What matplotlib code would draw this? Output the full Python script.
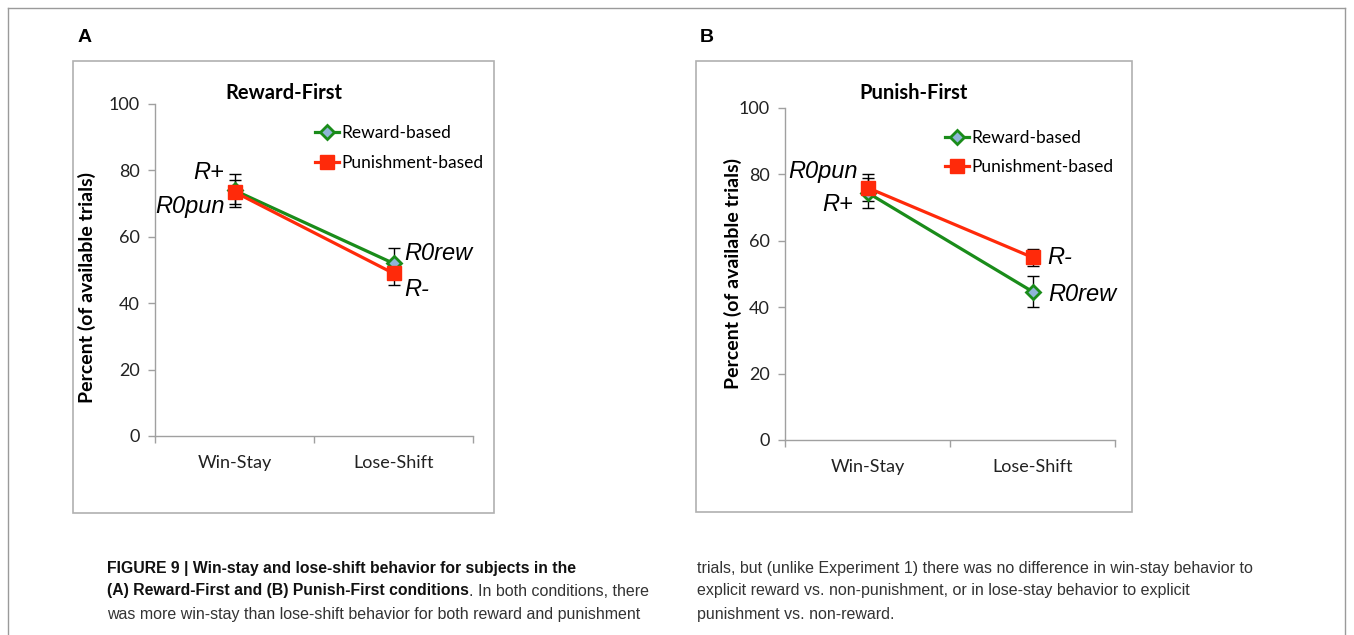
import matplotlib.pyplot as plt
from matplotlib.patches import Rectangle
from matplotlib.lines import Line2D

plt.rcParams['font.family'] = ['Lato', 'DejaVu Sans']

# data
categories = ['Win-Stay', 'Lose-Shift']
series_names = ['Reward-based', 'Punishment-based']

rf_reward = [74, 52]
rf_reward_err = [5, 4.5]
rf_punish = [73.5, 49]
rf_punish_err = [3.5, 3.5]

pf_reward = [74.5, 44.7]
pf_reward_err = [4.5, 4.7]
pf_punish = [76, 55]
pf_punish_err = [4, 2.5]

yticks = [0, 20, 40, 60, 80, 100]

GREEN = '#1a8c1a'
RED = '#ff2a0a'
GRAY = '#a0a0a0'

W, H = 1354, 635
fig = plt.figure(figsize=(W / 100, H / 100), dpi=100)


def px_rect(x0, y0, x1, y1):
    return [x0 / W, 1 - y1 / H, (x1 - x0) / W, (y1 - y0) / H]


# outer frame
fig.add_artist(Line2D([8 / W, 8 / W], [0, 1 - 8 / H], color='#9a9a9a', lw=1))
fig.add_artist(Line2D([1345 / W, 1345 / W], [0, 1 - 8 / H], color='#9a9a9a', lw=1))
fig.add_artist(Line2D([8 / W, 1345 / W], [1 - 8 / H, 1 - 8 / H], color='#9a9a9a', lw=1))

# chart boxes
for box in [(73, 61, 494, 513), (696, 61, 1132, 512)]:
    x0, y0, x1, y1 = box
    fig.add_artist(Rectangle((x0 / W, 1 - y1 / H), (x1 - x0) / W, (y1 - y0) / H,
                             transform=fig.transFigure, fill=False,
                             edgecolor='#b0b0b0', lw=1.2))


def draw_panel(rect, title, title_xy, reward, reward_err, punish, punish_err,
               labels, letter, letter_xy, ylab_xy, leg_xy):
    ax = fig.add_axes(rect)
    xs = [0.5, 1.5]
    ax.errorbar(xs, reward, yerr=reward_err, fmt='none', ecolor='black',
                elinewidth=1, capsize=4, capthick=1, zorder=2)
    ax.errorbar(xs, punish, yerr=punish_err, fmt='none', ecolor='black',
                elinewidth=1, capsize=4, capthick=1, zorder=2)
    ax.plot(xs, reward, color=GREEN, lw=2.3, marker='D', ms=7,
            markerfacecolor='#8fb4d8', markeredgecolor=GREEN, markeredgewidth=2,
            label=series_names[0], zorder=3)
    ax.plot(xs, punish, color=RED, lw=2.3, marker='s', ms=10,
            markerfacecolor=RED, markeredgecolor=RED,
            label=series_names[1], zorder=4)

    ax.set_xlim(0, 2)
    ax.set_ylim(0, 100)
    ax.set_yticks(yticks)
    ax.set_xticks([0, 1, 2])
    ax.set_xticklabels([])
    ax.set_xticks(xs, minor=True)
    ax.set_xticklabels(categories, minor=True)
    ax.tick_params(axis='x', which='minor', length=0, pad=14, labelsize=13, labelcolor='#222')
    ax.tick_params(axis='x', which='major', length=5, color=GRAY, width=1)
    ax.tick_params(axis='y', length=5, color=GRAY, width=1, labelsize=13, labelcolor='#222', pad=6)
    for s in ['top', 'right']:
        ax.spines[s].set_visible(False)
    for s in ['left', 'bottom']:
        ax.spines[s].set_color(GRAY)
        ax.spines[s].set_linewidth(1)
    ax.set_ylabel('Percent (of available trials)', fontsize=14, fontweight='bold')
    ax.yaxis.set_label_coords(*ylab_xy)
    ax.text(title_xy[0], title_xy[1], title, transform=ax.transAxes, fontsize=14.5,
            fontweight='bold', ha='center', va='center')

    ax.legend(loc='upper left', bbox_to_anchor=leg_xy, frameon=False, fontsize=12.5,
              borderaxespad=0, borderpad=0,
              handlelength=1.4, handletextpad=0.1, labelspacing=0.8)

    # point labels
    for (text, series, idx, dx, dy, ha) in labels:
        vals = reward if series == 'r' else punish
        ax.annotate(text, xy=(xs[idx], vals[idx]), xytext=(dx * 0.72, dy * 0.72),
                    textcoords='offset points', ha=ha, va='center', fontsize=17,
                    style='italic', family='Liberation Sans')

    fig.text(letter_xy[0] / W, 1 - letter_xy[1] / H, letter, fontsize=14,
             fontweight='bold', family='Liberation Sans', va='center', ha='left')
    return ax


draw_panel(px_rect(155, 104, 473, 436), 'Reward-First', (0.406, 1.033),
           rf_reward, rf_reward_err, rf_punish, rf_punish_err,
           [('R+', 'r', 0, -10, 18, 'right'), ('R0pun', 'p', 0, -10, -15, 'right'),
            ('R0rew', 'r', 1, 11, 10, 'left'), ('R-', 'p', 1, 11, -16, 'left')],
           'A', (78, 37), (-0.186, 0.447), (0.503, 0.936))

draw_panel(px_rect(785, 108, 1115, 440), 'Punish-First', (0.39, 1.045),
           pf_reward, pf_reward_err, pf_punish, pf_punish_err,
           [('R0pun', 'p', 0, -10, 16, 'right'), ('R+', 'r', 0, -14, -12, 'right'),
            ('R-', 'p', 1, 15, 0, 'left'), ('R0rew', 'r', 1, 16, -3, 'left')],
           'B', (700, 37), (-0.130, 0.503), (0.485, 0.935))

# caption
cap_font = dict(family='Liberation Sans', fontsize=11.5, va='center', ha='left', color='#333')
bold_font = {**cap_font, 'color': '#111', 'fontsize': 11.3, 'fontweight': 'bold'}
fig.text(107 / W, 1 - 568 / H, 'FIGURE 9 | Win-stay and lose-shift behavior for subjects in the',
         **bold_font)
t_bold = fig.text(107 / W, 1 - 591 / H, '(A) Reward-First and (B) Punish-First conditions',
                  **bold_font)
fig.canvas.draw()
bb = t_bold.get_window_extent()
fig.text(bb.x1 / W, 1 - 591 / H, '. In both conditions, there', **cap_font)
fig.text(107 / W, 1 - 614 / H,
         'was more win-stay than lose-shift behavior for both reward and punishment', **cap_font)
fig.text(697 / W, 1 - 568 / H,
         'trials, but (unlike Experiment 1) there was no difference in win-stay behavior to', **cap_font)
fig.text(697 / W, 1 - 591 / H,
         'explicit reward vs. non-punishment, or in lose-stay behavior to explicit', **cap_font)
fig.text(697 / W, 1 - 614 / H, 'punishment vs. non-reward.', **cap_font)

fig.savefig('out.png', dpi=100)
